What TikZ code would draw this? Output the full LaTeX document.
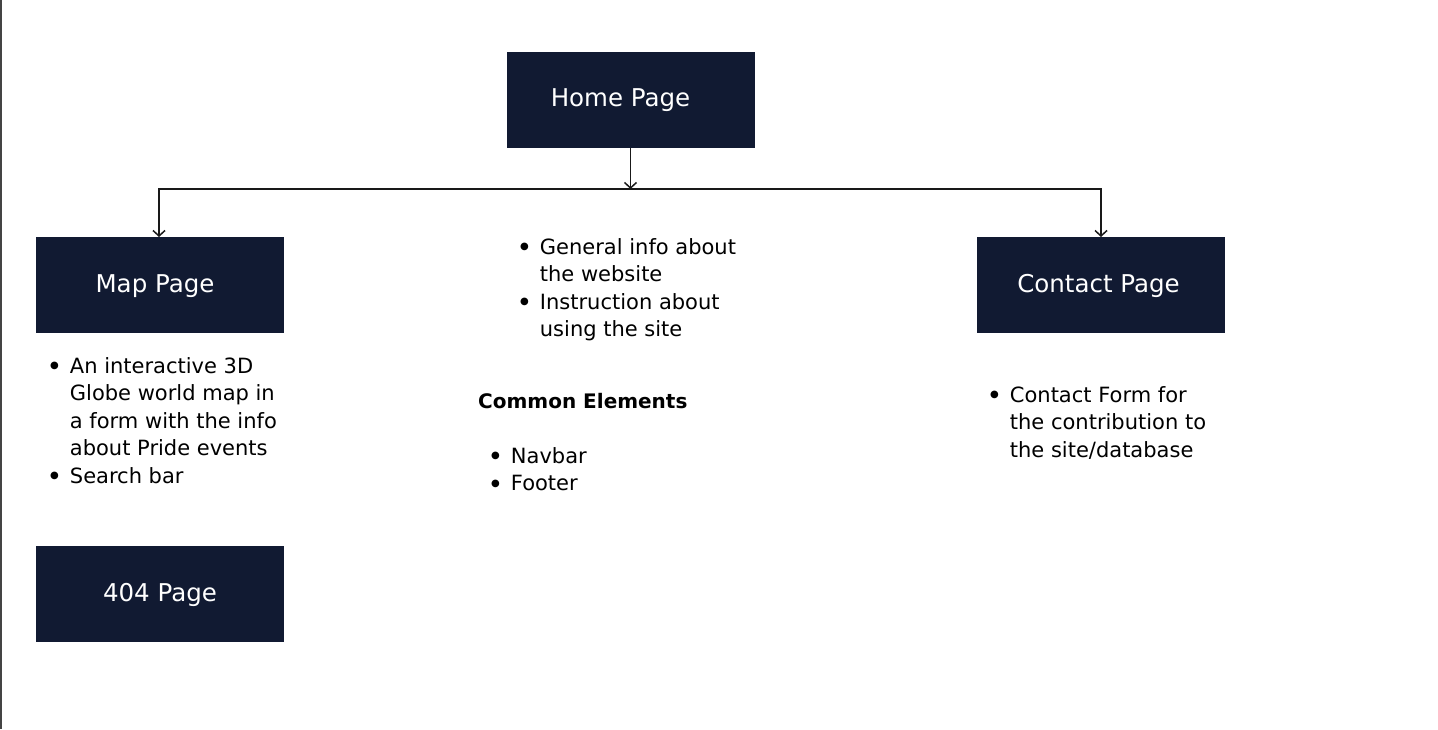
\documentclass[tikz,border=0pt]{standalone}
\usepackage{fontspec}
\setmainfont{DejaVu Sans}
\usetikzlibrary{arrows.meta}
\definecolor{navy}{RGB}{17,26,50}
\definecolor{edgegray}{RGB}{68,68,68}
\definecolor{linkgray}{RGB}{25,25,25}
\tikzset{
  pagebox/.style={fill=navy, draw=none, minimum width=248pt, minimum height=96pt, inner sep=0pt},
  boxtext/.style={anchor=base, text=white, font=\fontsize{24.5}{28}\selectfont, inner sep=0pt},
  listtext/.style={anchor=base west, inner sep=0pt, font=\fontsize{21}{27.5}\selectfont, text=black},
  headtext/.style={anchor=base west, inner sep=0pt, font=\bfseries\fontsize{20}{27.5}\selectfont, text=black},
  link/.style={draw=linkgray, line width=1.7pt, -{Straight Barb[length=5.5pt,width=12pt,line width=1.5pt]}}
}
\newcommand{\blt}{\raisebox{4.2pt}{\fontsize{10}{10}\selectfont ●}}
\newcommand{\bulletgap}{\hspace{11pt}}
\begin{document}
\begin{tikzpicture}[x=1pt,y=-1pt]
  \useasboundingbox (0,0) rectangle (1438,729);
  \fill[white] (0,0) rectangle (1438,729);
  % left edge rule
  \draw[edgegray, line width=1.5pt] (0.75,0) -- (0.75,729);

  % page boxes
  \node[pagebox] (home) at (630.5,99.5) {};
  \node[boxtext] (hometext) at (620.5,106) {Home Page};
  \node[pagebox] (map) at (160,284.5) {};
  \node[boxtext] (maptext) at (155,292) {Map Page};
  \node[pagebox] (contact) at (1101,284.5) {};
  \node[boxtext] (contacttext) at (1098.5,292) {Contact Page};
  \node[pagebox] (notfound) at (160,594) {};
  \node[boxtext] (notfoundtext) at (160,601) {404 Page};

  % connectors
  \coordinate (junction) at (630.5,189);
  \coordinate (mapin) at (159,237);
  \coordinate (contactin) at (1101,237);
  \draw[link] (home.south) -- (junction);
  \draw[link] (junction) -| (mapin);
  \draw[link] (junction) -| (contactin);

  % descriptions
  \node[listtext] (homelist) at (520,254) {\begin{tabular}[t]{@{}c@{\bulletgap}l@{}}
    \blt & General info about\\
         & the website\\
    \blt & Instruction about\\
         & using the site
  \end{tabular}};
  \node[listtext] (maplist) at (50,373) {\begin{tabular}[t]{@{}c@{\bulletgap}l@{}}
    \blt & An interactive 3D\\
         & Globe world map in\\
         & a form with the info\\
         & about Pride events\\
    \blt & Search bar
  \end{tabular}};
  \node[listtext] (contactlist) at (990,402) {\begin{tabular}[t]{@{}c@{\bulletgap}l@{}}
    \blt & Contact Form for\\
         & the contribution to\\
         & the site/database
  \end{tabular}};
  \node[headtext] (commonhead) at (478,408) {Common Elements};
  \node[listtext] (commonlist) at (491,463) {\begin{tabular}[t]{@{}c@{\bulletgap}l@{}}
    \blt & Navbar\\
    \blt & Footer
  \end{tabular}};
\end{tikzpicture}
\end{document}
